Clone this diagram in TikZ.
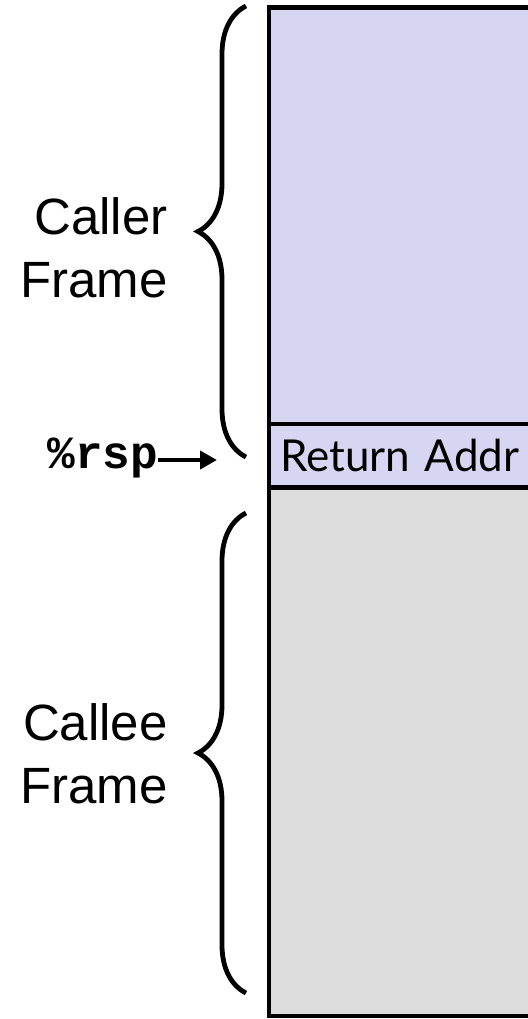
\documentclass[tikz,border=0pt]{standalone}
\usepackage{fontspec}
\setmainfont{Liberation Sans}
\newfontfamily\gillfont{Lato}
\newfontfamily\codefont{Liberation Mono}
\usetikzlibrary{arrows.meta, positioning, decorations.pathreplacing}
\definecolor{framepurple}{RGB}{214,214,242}
\definecolor{framegray}{RGB}{220,220,220}

\begin{document}
\begin{tikzpicture}[
    x=0.5pt, y=-0.5pt,
    cell/.style={rectangle, draw=black, line width=2.4pt, outer sep=0pt,
                 inner xsep=5.5pt, text width=139pt, align=left, minimum width=150pt},
    brc/.style={decorate, decoration={brace, amplitude=24pt}, line width=2.4pt},
    lbl/.style={align=right, inner sep=0pt, font=\fontsize{25.5}{31.5}\selectfont},
    ptr/.style={-{Triangle[length=8.5pt, width=9pt]}, line width=2pt},
]
    \useasboundingbox (0,0) rectangle (528,1019);
    \clip (0,0) rectangle (528,1019);

    % stack cells
    \node[cell, fill=framepurple, minimum height=208.25pt, anchor=north west] (caller) at (269,7.5) {};
    \node[cell, fill=framepurple, minimum height=31.75pt, below=0pt of caller,
          font=\gillfont\fontsize{22}{26}\selectfont] (ret) {Return Addr};
    \node[cell, fill=framegray, minimum height=264.25pt, below=0pt of ret] (callee) {};

    % braces
    \coordinate (callertop) at (246,6);
    \coordinate (callerbot) at (246,457);
    \coordinate (calleetop) at (246,513);
    \coordinate (calleebot) at (246,993);
    \draw[brc] (callerbot) -- (callertop);
    \draw[brc] (calleebot) -- (calleetop);

    \node[lbl, anchor=east] (callerlbl) at (168,248) {Caller\\Frame};
    \node[lbl, anchor=east] (calleelbl) at (168,754) {Callee\\Frame};

    % stack pointer
    \node[inner sep=0pt, anchor=base west, font=\codefont\bfseries\fontsize{23}{26}\selectfont]
        (rsp) at (47,468) {\%rsp};
    \coordinate (rsptip) at (217,460);
    \draw[ptr] (rsp.east |- rsptip) -- (rsptip);
\end{tikzpicture}
\end{document}
